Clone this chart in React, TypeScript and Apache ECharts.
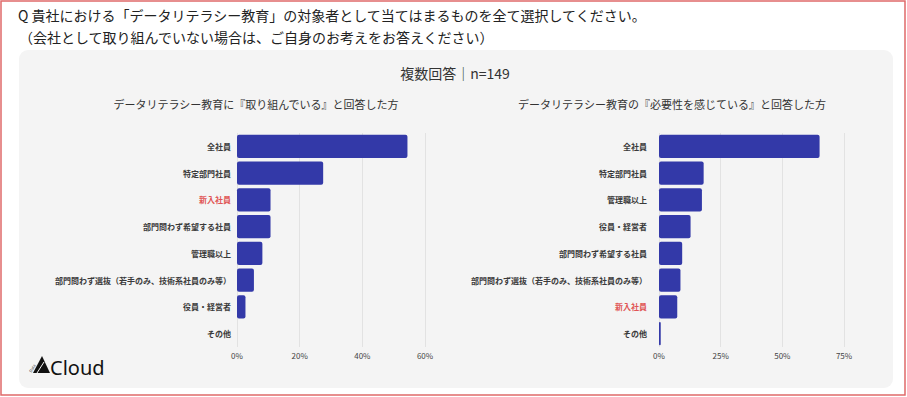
import React, { useEffect, useRef } from "react";
import * as echarts from "echarts";

const titleLine1 = "Q 貴社における「データリテラシー教育」の対象者として当てはまるものを全て選択してください。";
const titleLine2 = "（会社として取り組んでいない場合は、ご自身のお考えをお答えください）";
const noteText = "複数回答｜n=149";
const leftTitle = "データリテラシー教育に『取り組んでいる』と回答した方";
const rightTitle = "データリテラシー教育の『必要性を感じている』と回答した方";
const highlightCategory = "新入社員";

const leftCategories = [
  "全社員",
  "特定部門社員",
  "新入社員",
  "部門問わず希望する社員",
  "管理職以上",
  "部門問わず選抜（若手のみ、技術系社員のみ等）",
  "役員・経営者",
  "その他",
];
const leftValues = [54.4, 27.5, 10.7, 10.7, 8.1, 5.4, 2.7, 0];
const leftTicks = { max: 60, interval: 20 };

const rightCategories = [
  "全社員",
  "特定部門社員",
  "管理職以上",
  "役員・経営者",
  "部門問わず希望する社員",
  "部門問わず選抜（若手のみ、技術系社員のみ等）",
  "新入社員",
  "その他",
];
const rightValues = [65.1, 18.1, 17.4, 12.8, 9.4, 8.7, 7.4, 0.7];
const rightTicks = { max: 75, interval: 25 };

const FONT = "'Noto Sans CJK JP', 'Noto Sans', sans-serif";
const BAR = "#3339a8";

export default function App() {
  const ref = useRef<HTMLDivElement>(null);
  useEffect(() => {
    if (!ref.current) return;
    const chart = echarts.init(ref.current, null, { renderer: "svg" });
    const catAxis = (cats: string[], idx: number, margin: number) => ({
      type: "category",
      gridIndex: idx,
      data: cats,
      inverse: true,
      axisLine: { show: false },
      axisTick: { show: false },
      axisLabel: {
        margin,
        fontSize: 8,
        fontWeight: "bold",
        color: "#3a3a3a",
        fontFamily: FONT,
        formatter: (v: string) => (v === highlightCategory ? `{r|${v}}` : v),
        rich: {
          r: { color: "#e05555", fontSize: 8, fontWeight: "bold", fontFamily: FONT },
        },
      },
    });
    const valAxis = (idx: number, t: { max: number; interval: number }) => ({
      type: "value",
      gridIndex: idx,
      min: 0,
      max: t.max,
      interval: t.interval,
      axisLine: { show: false },
      axisTick: { show: false },
      splitLine: { show: true, lineStyle: { color: "#e2e2e2", width: 1 } },
      axisLabel: {
        margin: 4,
        fontSize: 8,
        color: "#444",
        fontFamily: FONT,
        formatter: (v: number) => `${v}%`,
      },
    });
    chart.setOption({
      animation: false,
      backgroundColor: "#ffffff",
      textStyle: { fontFamily: FONT },
      graphic: [
        {
          type: "rect",
          z: -10,
          shape: { x: 1, y: 1, width: 904, height: 394 },
          style: { fill: "#ffffff", stroke: "#e06a6a", lineWidth: 1.5 },
        },
        {
          type: "rect",
          z: -9,
          shape: { x: 19, y: 50, width: 874, height: 338, r: 9 },
          style: { fill: "#f4f4f4" },
        },
        {
          type: "text",
          x: 18,
          y: 15,
          style: { text: titleLine1, fontSize: 14, fill: "#222", fontFamily: FONT, verticalAlign: "middle" },
        },
        {
          type: "text",
          x: 19,
          y: 37,
          style: { text: titleLine2, fontSize: 14, fill: "#222", fontFamily: FONT, verticalAlign: "middle" },
        },
        {
          type: "text",
          x: 455,
          y: 73,
          style: { text: noteText, fontSize: 14, fill: "#333", fontFamily: FONT, align: "center", verticalAlign: "middle" },
        },
        {
          type: "text",
          x: 256,
          y: 104,
          style: { text: leftTitle, fontSize: 11, fill: "#333", fontFamily: FONT, align: "center", verticalAlign: "middle" },
        },
        {
          type: "text",
          x: 672,
          y: 104,
          style: { text: rightTitle, fontSize: 11, fill: "#333", fontFamily: FONT, align: "center", verticalAlign: "middle" },
        },
        {
          type: "polygon",
          shape: { points: [[33, 373], [42, 356], [50, 373]] },
          style: { fill: "#111" },
        },
        {
          type: "line",
          shape: { x1: 37, y1: 373, x2: 44, y2: 362 },
          style: { stroke: "#f4f4f4", lineWidth: 1 },
        },
        {
          type: "text",
          x: 32,
          y: 368,
          rotation: Math.PI / 3,
          style: { text: "Data", fontSize: 4, fill: "#444", fontFamily: FONT, align: "center", verticalAlign: "middle" },
        },
        {
          type: "text",
          x: 50,
          y: 367,
          style: { text: "Cloud", fontSize: 20, fill: "#111", fontFamily: "'Noto Sans', sans-serif", verticalAlign: "middle" },
        },
      ],
      grid: [
        { left: 237, right: 907 - 425, top: 133, bottom: 50 },
        { left: 659, right: 907 - 844, top: 133, bottom: 50 },
      ],
      xAxis: [valAxis(0, leftTicks), valAxis(1, rightTicks)],
      yAxis: [catAxis(leftCategories, 0, 6), catAxis(rightCategories, 1, 12)],
      series: [
        {
          type: "bar",
          xAxisIndex: 0,
          yAxisIndex: 0,
          data: leftValues,
          barCategoryGap: "14%",
          itemStyle: { color: BAR, borderRadius: 2 },
        },
        {
          type: "bar",
          xAxisIndex: 1,
          yAxisIndex: 1,
          data: rightValues,
          barCategoryGap: "14%",
          itemStyle: { color: BAR, borderRadius: 2 },
        },
      ],
    });
    return () => chart.dispose();
  }, []);
  return (
    <div
      ref={ref}
      style={{ position: "absolute", left: 0, top: 0, width: 907, height: 397 }}
    />
  );
}
